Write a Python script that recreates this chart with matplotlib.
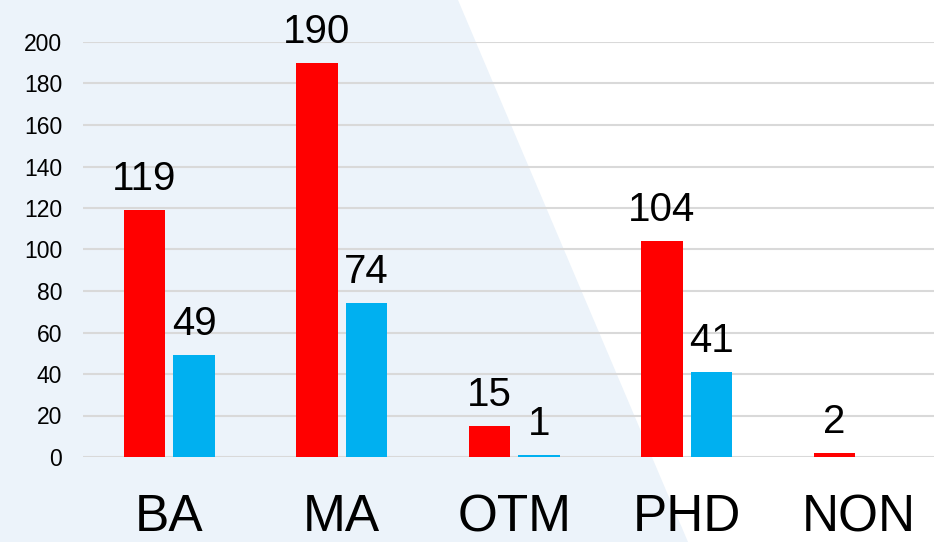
import matplotlib
matplotlib.use("Agg")
import matplotlib.pyplot as plt
from matplotlib.patches import Polygon
import numpy as np

categories = ["BA", "MA", "OTM", "PHD", "NON"]
series_red = [119, 190, 15, 104, 2]
series_blue = [49, 74, 1, 41, 0]
yticks = [0, 20, 40, 60, 80, 100, 120, 140, 160, 180, 200]

plt.rcParams['font.family'] = ['Liberation Sans', 'DejaVu Sans']

W, H = 934, 542
fig = plt.figure(figsize=(W / 100, H / 100), dpi=100)
fig.patch.set_facecolor("white")

# light blue background shape on the left
poly = Polygon([(0, 1), (458 / W, 1), (688 / W, 0), (0, 0)], closed=True,
               transform=fig.transFigure, facecolor="#ECF3FA", edgecolor="none", zorder=-10)
fig.patches.append(poly)

left = 83 / W
bottom = (H - 457) / H
top = (H - 42) / H
ax = fig.add_axes([left, bottom, 1 - left, top - bottom])
ax.set_facecolor("none")
ax.set_zorder(1)

x = np.arange(len(categories))
bw = 0.238
off = 0.1435
ax.bar(x - off, series_red, width=bw, color="#FF0000", zorder=3)
blue_idx = [i for i, v in enumerate(series_blue) if v > 0]
ax.bar(x[blue_idx] + off, [series_blue[i] for i in blue_idx], width=bw, color="#00B0F0", zorder=3)

for i, v in enumerate(series_red):
    ax.annotate(str(v), (x[i] - off, v), xytext=(0, 14.5), textcoords="offset points",
                ha="center", va="baseline", fontsize=29, color="black")
for i in blue_idx:
    v = series_blue[i]
    ax.annotate(str(v), (x[i] + off, v), xytext=(0, 14.5), textcoords="offset points",
                ha="center", va="baseline", fontsize=29, color="black")

ax.set_ylim(0, 200)
ax.set_xlim(-0.5, 4.5 - (945.5 - W) / 172.5)
ax.set_yticks(yticks)
ax.set_yticklabels([str(t) for t in yticks], fontsize=16.5)
ax.set_xticks(x)
ax.set_xticklabels(categories, fontsize=37)
ax.tick_params(axis="y", length=0, pad=15)
ax.tick_params(axis="x", length=0, pad=26)
ax.grid(axis="y", color="#D9D9D9", linewidth=1.5, zorder=1)
ax.set_axisbelow(True)
for s in ax.spines.values():
    s.set_visible(False)

fig.savefig("out.png", dpi=100, facecolor=fig.get_facecolor())
